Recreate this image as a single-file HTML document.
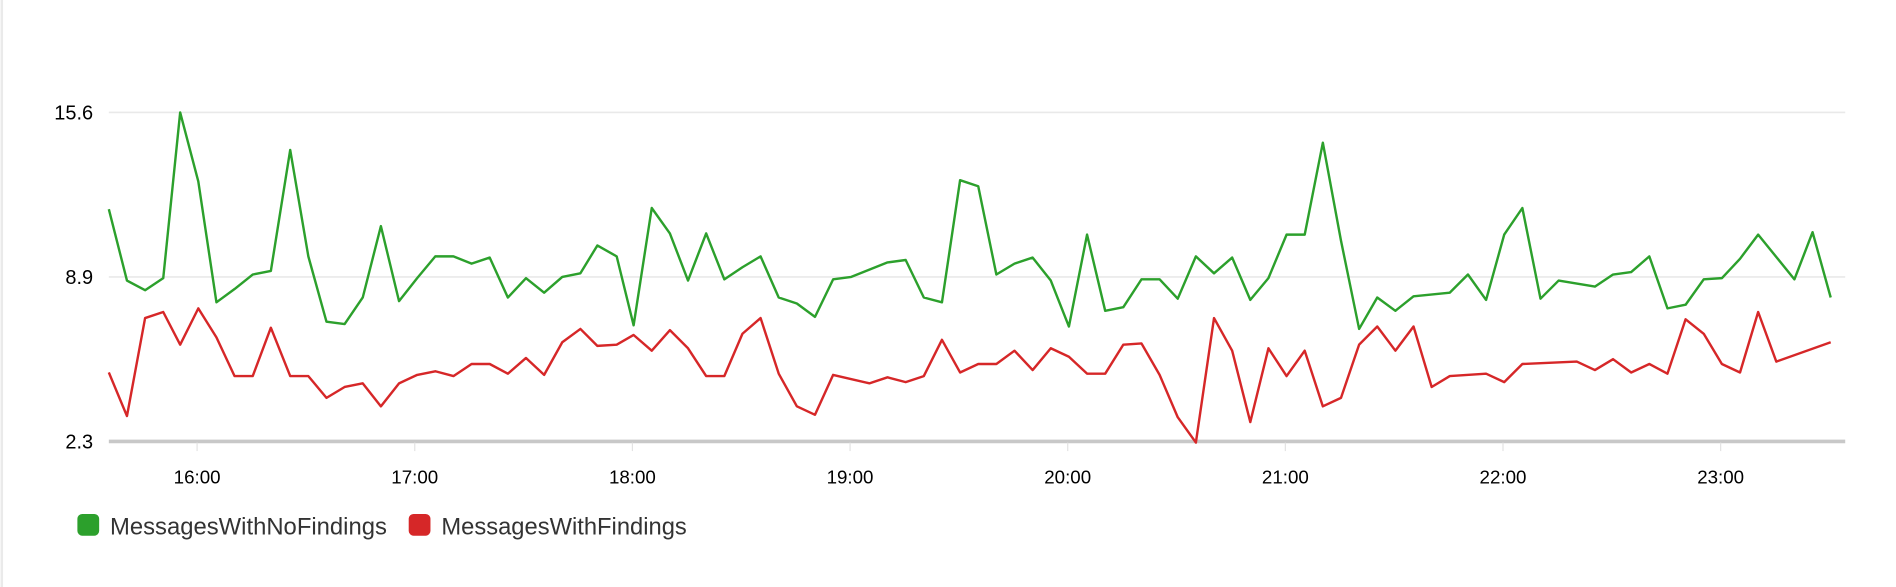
<!DOCTYPE html>
<html><head><meta charset="utf-8"><style>
html,body{margin:0;padding:0;background:#fff;width:1896px;height:587px;overflow:hidden}
svg{display:block}
text{font-family:"Liberation Sans",sans-serif}
</style></head><body>
<svg width="1896" height="587" viewBox="0 0 1568 485.4" preserveAspectRatio="none">
<rect x="0" y="0" width="1568" height="485.4" fill="#fff"/>
<line x1="1.5" y1="0" x2="1.5" y2="485.4" stroke="#eaeaea" stroke-width="2"/>
<line x1="90" y1="93" x2="1526" y2="93" stroke="#e9e9e9" stroke-width="1.3"/>
<line x1="90" y1="229" x2="1526" y2="229" stroke="#e9e9e9" stroke-width="1.3"/>
<line x1="90" y1="365" x2="1526" y2="365" stroke="#c8c8c8" stroke-width="3"/>
<g stroke="#e3e3e3" stroke-width="1">
<line x1="163" y1="366" x2="163" y2="373"/><line x1="343" y1="366" x2="343" y2="373"/><line x1="523" y1="366" x2="523" y2="373"/><line x1="703" y1="366" x2="703" y2="373"/><line x1="883" y1="366" x2="883" y2="373"/><line x1="1063" y1="366" x2="1063" y2="373"/><line x1="1243" y1="366" x2="1243" y2="373"/><line x1="1423" y1="366" x2="1423" y2="373"/>
</g>
<g font-size="16.5" fill="#000" text-anchor="end">
<text x="77" y="99">15.6</text><text x="77" y="235">8.9</text><text x="77" y="371">2.3</text>
</g>
<g font-size="15.5" fill="#000" text-anchor="middle">
<text x="163" y="400">16:00</text><text x="343" y="400">17:00</text><text x="523" y="400">18:00</text><text x="703" y="400">19:00</text><text x="883" y="400">20:00</text><text x="1063" y="400">21:00</text><text x="1243" y="400">22:00</text><text x="1423" y="400">23:00</text>
</g>
<polyline fill="none" stroke="#2ca02c" stroke-width="2" stroke-linejoin="round" points="90,173 105,232 120,240 135,230 149,93 164,150 179,250 194,239 209,227 224,224 240,124 255,212 270,266 285,268 300,246 315,187 330,249 345,230 360,212 375,212 390,218 405,213 420,246 435,230 450,242 465,229 480,226 494,203 510,212 524,269 539,172 554,193 569,232 584,193 599,231 614,221 629,212 644,246 659,251 674,262 689,231 704,229 734,217 749,215 764,246 779,250 794,149 809,154 824,227 839,218 854,213 869,232 884,270 899,194 914,257 929,254 944,231 959,231 974,247 989,212 1004,226 1019,213 1034,248 1049,230 1064,194 1079,194 1094,118 1109,199 1124,272 1139,246 1154,257 1169,245 1199,242 1214,227 1229,248 1244,194 1259,172 1274,247 1289,232 1319,237 1334,227 1349,225 1364,212 1379,255 1394,252 1409,231 1424,230 1439,214 1454,194 1484,231 1499,192 1514,246"/>
<polyline fill="none" stroke="#d62728" stroke-width="2" stroke-linejoin="round" points="90,308 105,344 120,263 135,258 149,285 164,255 179,279 194,311 209,311 224,271 240,311 255,311 270,329 285,320 300,317 315,336 330,317 345,310 360,307 375,311 390,301 405,301 420,309 435,296 450,310 465,283 480,272 494,286 510,285 524,277 539,290 554,273 569,288 584,311 599,311 614,276 629,263 644,309 659,336 674,343 689,310 719,317 734,312 749,316 764,311 779,281 794,308 809,301 824,301 839,290 854,306 869,288 884,295 899,309 914,309 929,285 944,284 959,310 974,345 989,366 1004,263 1019,290 1034,349 1049,288 1064,311 1079,290 1094,336 1109,329 1124,285 1139,270 1154,290 1169,270 1184,320 1199,311 1229,309 1244,316 1259,301 1304,299 1319,306 1334,297 1349,308 1364,301 1379,309 1394,264 1409,276 1424,301 1439,308 1454,258 1469,299 1514,283"/>
<rect x="64" y="425" width="18" height="18" rx="4" fill="#2ca02c"/>
<text x="91" y="442" font-size="19.5" fill="#333" textLength="229" lengthAdjust="spacingAndGlyphs">MessagesWithNoFindings</text>
<rect x="338" y="425" width="18" height="18" rx="4" fill="#d62728"/>
<text x="365" y="442" font-size="19.5" fill="#333" textLength="203" lengthAdjust="spacingAndGlyphs">MessagesWithFindings</text>
</svg>
</body></html>
